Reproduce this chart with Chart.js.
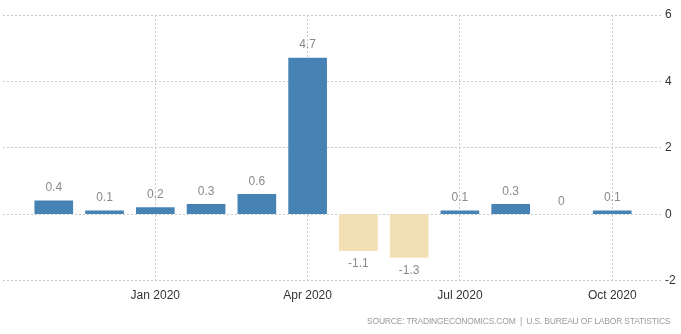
<!DOCTYPE html>
<html>
<head>
  <meta charset="UTF-8">
  <title>Monthly Change</title>
  <script src="https://cdn.jsdelivr.net/npm/chart.js"></script>
</head>
<body style="margin:0;background:#fff">
  <canvas id="chart" width="681" height="334"></canvas>
  <script>
    const months = ['Nov 2019', 'Dec 2019', 'Jan 2020', 'Feb 2020', 'Mar 2020', 'Apr 2020',
                    'May 2020', 'Jun 2020', 'Jul 2020', 'Aug 2020', 'Sep 2020', 'Oct 2020'];
    const values = [0.4, 0.1, 0.2, 0.3, 0.6, 4.7, -1.1, -1.3, 0.1, 0.3, 0, 0.1];
    const tickLabels = ['Jan 2020', 'Apr 2020', 'Jul 2020', 'Oct 2020'];
    const yTicks = [-2, 0, 2, 4, 6];
    const sourceText = 'SOURCE: TRADINGECONOMICS.COM  |  U.S. BUREAU OF LABOR STATISTICS';

    // one empty slot on each side so the axis runs past the first and last bar
    const labels = [''].concat(months, ['']);
    const data = [null].concat(values, [null]);

    const valueLabels = {
      id: 'valueLabels',
      afterDatasetsDraw(chart) {
        const ctx = chart.ctx;
        const meta = chart.getDatasetMeta(0);
        ctx.save();
        ctx.font = '12px "Liberation Sans", Arial, sans-serif';
        ctx.fillStyle = '#8a8a8a';
        ctx.textAlign = 'center';
        ctx.textBaseline = 'middle';
        meta.data.forEach((bar, i) => {
          const v = data[i];
          if (v === null) return;
          const y = v >= 0 ? bar.y - 13 : bar.y + 13;
          ctx.fillText(String(v), bar.x, y);
        });
        ctx.restore();
      }
    };

    const sourceNote = {
      id: 'sourceNote',
      afterDraw(chart) {
        const ctx = chart.ctx;
        ctx.save();
        ctx.font = '8.5px "Liberation Sans", Arial, sans-serif';
        ctx.fillStyle = '#9a9a9a';
        ctx.textAlign = 'left';
        ctx.textBaseline = 'middle';
        // spread the letters so the line spans the same width as the original
        const w = ctx.measureText(sourceText).width;
        ctx.letterSpacing = ((303 - w) / sourceText.length).toFixed(2) + 'px';
        ctx.fillText(sourceText, 367, 322);
        ctx.restore();
      }
    };

    const ctx = document.getElementById('chart').getContext('2d');
    new Chart(ctx, {
      type: 'bar',
      data: {
        labels: labels,
        datasets: [{
          data: data,
          backgroundColor: c => c.raw === 0 ? 'rgba(0,0,0,0)' : (c.raw < 0 ? '#f3dfb4' : '#4682b4'),
          barThickness: 38
        }]
      },
      options: {
        responsive: false,
        animation: false,
        layout: { padding: { left: 3, right: 4, top: 15, bottom: 23 } },
        plugins: { legend: { display: false }, tooltip: { enabled: false } },
        scales: {
          x: {
            offset: false,
            border: { display: false, dash: [2, 2] },
            grid: {
              offset: false,
              drawTicks: false,
              color: c => tickLabels.includes(labels[c.index]) ? '#c8c8c8' : 'rgba(0,0,0,0)'
            },
            // the end slots have no label, so no side padding is needed
            afterFit: s => { s.paddingLeft = 0; s.paddingRight = 0; },
            ticks: {
              autoSkip: false,
              maxRotation: 0,
              padding: 8,
              color: '#333',
              font: { family: '"Liberation Sans", Arial, sans-serif', size: 12 },
              callback: function (val) {
                const l = this.getLabelForValue(val);
                return tickLabels.includes(l) ? l : '';
              }
            }
          },
          y: {
            position: 'right',
            min: -2,
            max: 6,
            border: { display: false, dash: [2, 2] },
            grid: { drawTicks: false, color: '#c8c8c8' },
            afterBuildTicks: s => { s.ticks = yTicks.map(v => ({ value: v })); },
            afterFit: s => { s.width = 14; },
            ticks: {
              padding: 2,
              color: '#333',
              font: { family: '"Liberation Sans", Arial, sans-serif', size: 12 }
            }
          }
        }
      },
      plugins: [valueLabels, sourceNote]
    });
  </script>
</body>
</html>
